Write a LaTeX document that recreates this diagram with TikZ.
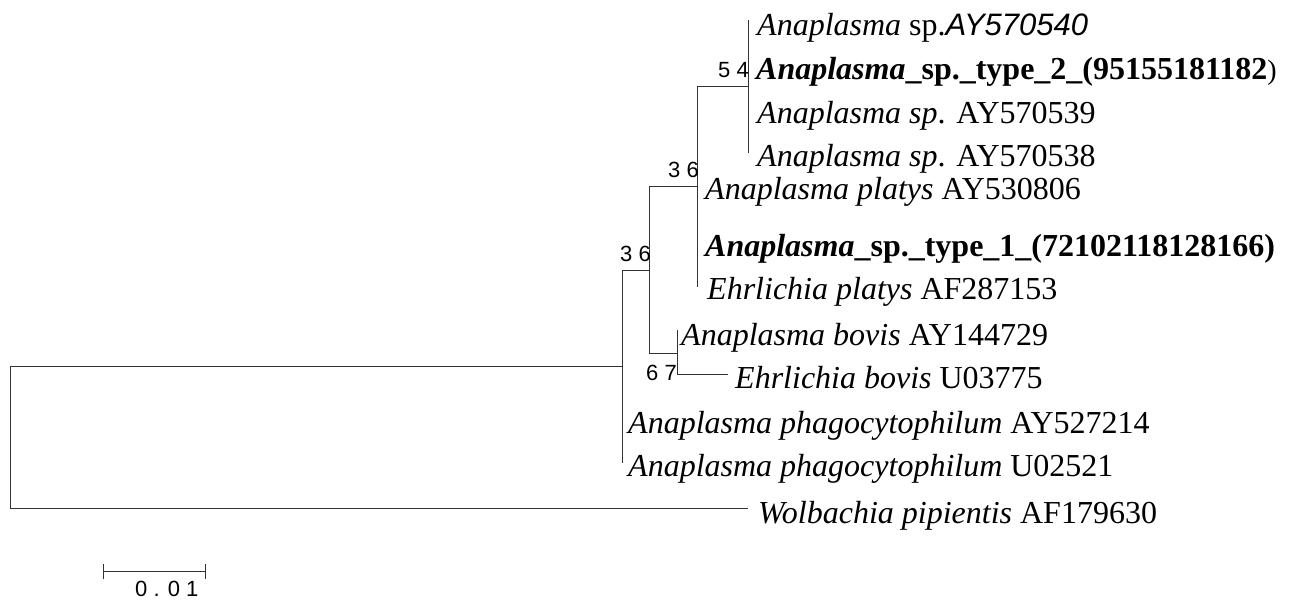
\documentclass[tikz,border=0pt]{standalone}
\usepackage{fontspec}
\setmainfont{Liberation Serif}
\setsansfont{Liberation Sans}
\begin{document}
\begin{tikzpicture}[x=1pt,y=-1pt,
  branch/.style={draw=black!80, line width=1pt},
  leaf/.style={anchor=base west, inner sep=0pt, font=\fontsize{32}{38}\selectfont},
  boot/.style={anchor=base east, inner sep=0pt, font=\sffamily\fontsize{22}{26}\selectfont},
  scalelab/.style={anchor=base west, inner sep=0pt, font=\sffamily\fontsize{22}{26}\selectfont}]
\useasboundingbox (0,0) rectangle (1293,600);
% leaves
\node[leaf] (l1) at (757,35) {\textit{Anaplasma} sp.{\sffamily\itshape\fontsize{31}{36}\selectfont AY570540}};
\node[leaf] (l2) at (756,79) {\textbf{\textit{Anaplasma}\_sp.\_type\_2\_(95155181182}{\fontsize{28}{34}\selectfont)}};
\node[leaf] (l3) at (757,123) {{\itshape Anaplasma sp}. AY570539};
\node[leaf] (l4) at (757,166) {{\itshape Anaplasma sp}. AY570538};
\node[leaf] (l5) at (705,199) {\textit{Anaplasma platys} AY530806};
\node[leaf] (l6) at (705,256) {\textbf{\textit{Anaplasma}\_sp.\_type\_1\_(72102118128166)}};
\node[leaf] (l7) at (707,299) {\textit{Ehrlichia platys} AF287153};
\node[leaf] (l8) at (681,345) {\textit{Anaplasma bovis} AY144729};
\node[leaf] (l9) at (735,388) {\textit{Ehrlichia bovis} U03775};
\node[leaf] (l10) at (628,433) {\textit{Anaplasma phagocytophilum} AY527214};
\node[leaf] (l11) at (628,476) {\textit{Anaplasma phagocytophilum} U02521};
\node[leaf] (l12) at (758,523) {\textit{Wolbachia pipientis} AF179630};
% tree coordinates
\coordinate (r) at (10,437);
\coordinate (n1) at (622,366);
\coordinate (n1b) at (622,463);
\coordinate (n2) at (649,270);
\coordinate (n3) at (697,186);
\coordinate (n3b) at (697,287);
\coordinate (n4) at (677,353);
\coordinate (n4a) at (677,330);
\coordinate (n5) at (748,86);
\coordinate (n5a) at (748,20);
\coordinate (n5b) at (748,153);
\coordinate (ebt) at (728,374);
\coordinate (wt) at (748,508);
% branches
\draw[branch] (n5a) -- (n5b);
\draw[branch] (n5 -| n3) -- (n5);
\draw[branch] (n3 |- n5) -- (n3b);
\draw[branch] (n3 -| n2) -- (n3);
\draw[branch] (n4a) -- (n4 |- ebt);
\draw[branch] (ebt -| n4) -- (ebt);
\draw[branch] (n4 -| n2) -- (n4);
\draw[branch] (n2 |- n3) -- (n2 |- n4);
\draw[branch] (n2 -| n1) -- (n2);
\draw[branch] (n1 |- n2) -- (n1b);
\draw[branch] (n1 -| r) -- (n1);
\draw[branch] (r |- n1) -- (r |- wt);
\draw[branch] (wt -| r) -- (wt);
% bootstrap values
\node[boot] (b54) at (749,77) {5 4};
\node[boot] (b36a) at (699,177) {3 6};
\node[boot] (b36b) at (651,261) {3 6};
\node[boot] (b67) at (677,380) {6 7};
% scale bar
\coordinate (sa) at (103,571);
\coordinate (sb) at (205,571);
\draw[branch] (sa) -- (sb);
\draw[branch] ([yshift=-8pt]sa) -- ([yshift=7pt]sa);
\draw[branch] ([yshift=-8pt]sb) -- ([yshift=7pt]sb);
\node[scalelab] (slab) at (135,596) {0 . 0 1};
\end{tikzpicture}
\end{document}
